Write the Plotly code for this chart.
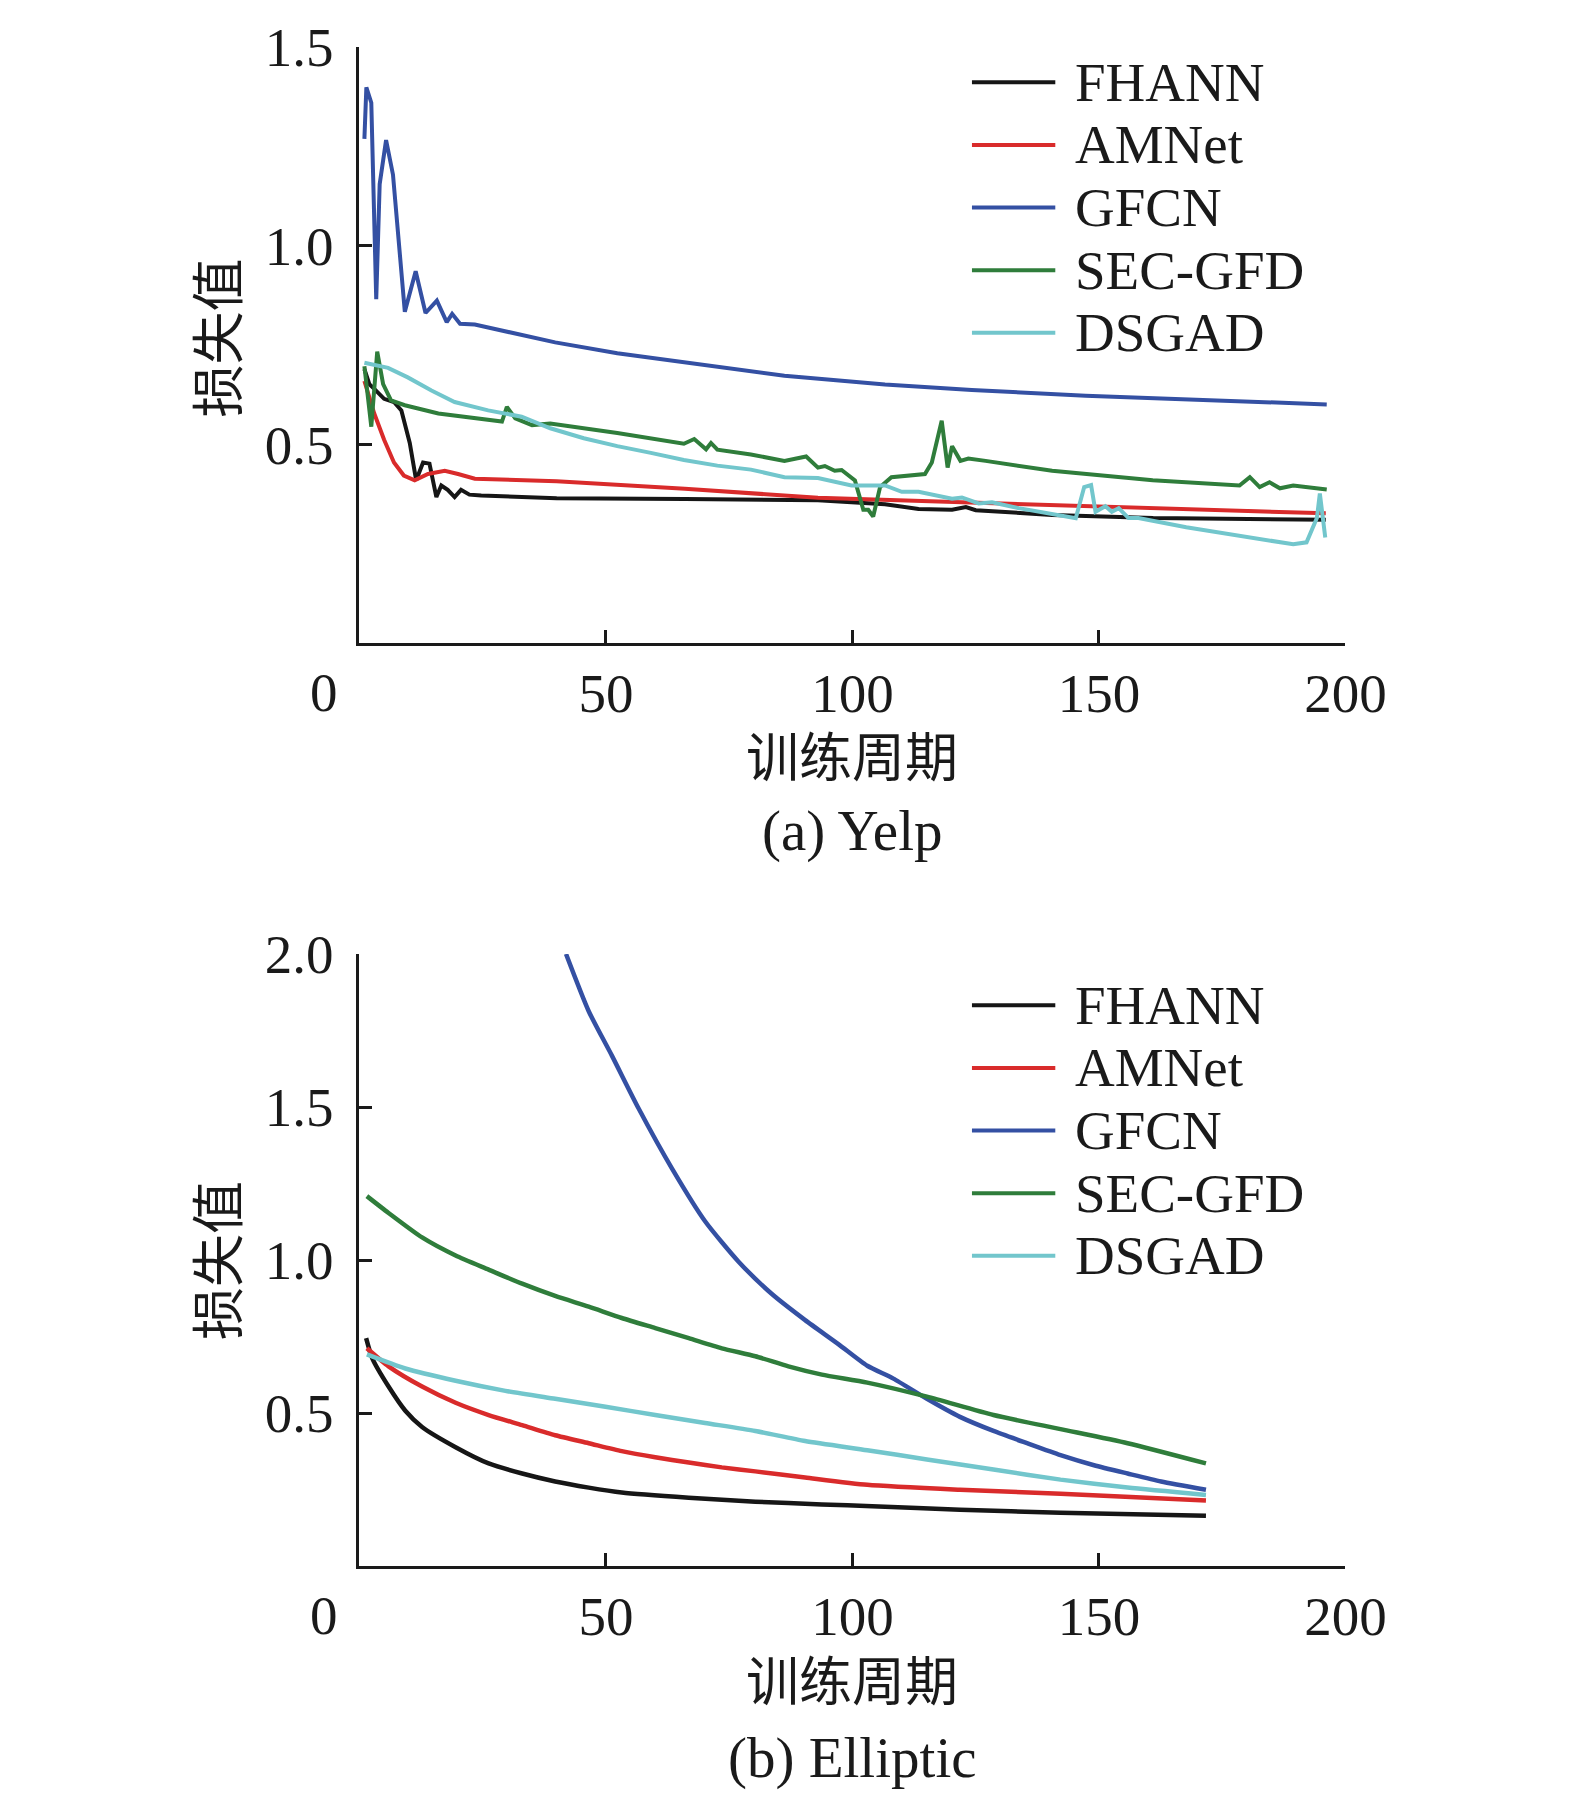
import plotly.graph_objects as go

W, H = 1575, 1796
SERIF = "Liberation Serif, Times New Roman, serif"
CJK = "Noto Sans CJK SC, Liberation Serif, sans-serif"

names = ["FHANN", "AMNet", "GFCN", "SEC-GFD", "DSGAD"]
colors = ["#161616", "#d92b2b", "#3450a3", "#2f7d3b", "#72c6cc"]

# ---- (a) Yelp ----
yelp_fhann_x = [1, 2, 3, 5, 7, 8.5, 10.2, 11.5, 12.9, 14.2, 15.6, 16.6, 17.9, 19.3, 20.6, 22.3, 24.7,
                40, 66, 93, 106.6, 113.4, 120.2, 123, 125, 140.5, 161, 196]
yelp_fhann_y = [0.69, 0.652, 0.64, 0.615, 0.607, 0.586, 0.504, 0.41, 0.455, 0.452, 0.368, 0.397, 0.386,
                0.368, 0.386, 0.374, 0.372, 0.365, 0.363, 0.36, 0.35, 0.338, 0.336, 0.343, 0.335, 0.323,
                0.315, 0.311]

yelp_amnet_x = [1, 3, 5, 7, 9, 11.2, 13.9, 17.3, 20, 23.4, 40, 66, 93, 124, 161, 196]
yelp_amnet_y = [0.66, 0.578, 0.512, 0.455, 0.422, 0.41, 0.426, 0.434, 0.426, 0.414, 0.408, 0.389,
                0.366, 0.354, 0.34, 0.327]

yelp_gfcn_x = [1, 1.4, 2.4, 3.4, 4.1, 5.4, 6.8, 9.2, 11.4, 13.4, 15.7, 17.7, 18.8, 20.4, 23.4, 39.7,
               52.3, 68.6, 86.2, 106.6, 124.2, 147.3, 174.5, 196.2]
yelp_gfcn_y = [1.269, 1.399, 1.36, 0.866, 1.155, 1.266, 1.179, 0.834, 0.936, 0.831, 0.862, 0.808, 0.829,
               0.804, 0.802, 0.757, 0.730, 0.702, 0.673, 0.651, 0.637, 0.623, 0.611, 0.601]

yelp_secgfd_x = [1, 2.4, 3.6, 4.8, 6.4, 9.2, 16, 28.9, 29.9, 31.6, 35, 38.7, 52.3, 65.8, 67.9, 70.3,
                 71.3, 72.6, 79.4, 86.2, 90.6, 93, 94.4, 96.4, 97.8, 100.5, 102.2, 103.2, 104.2, 105.6,
                 107.9, 114.7, 116.1, 118.1, 119.3, 120.2, 121.9, 123.5, 127, 140.5, 160.9, 178.5, 180.6,
                 182.6, 184.6, 186.7, 189.4, 196.2]
yelp_secgfd_y = [0.697, 0.545, 0.734, 0.652, 0.611, 0.599, 0.578, 0.558, 0.595, 0.566, 0.549, 0.553,
                 0.529, 0.502, 0.514, 0.488, 0.504, 0.487, 0.475, 0.459, 0.470, 0.442, 0.446, 0.434,
                 0.436, 0.41, 0.336, 0.336, 0.319, 0.393, 0.418, 0.426, 0.455, 0.56, 0.442, 0.496,
                 0.459, 0.465, 0.459, 0.434, 0.41, 0.397, 0.418, 0.393, 0.405, 0.39, 0.397, 0.387]

yelp_dsgad_x = [1, 5.8, 9.8, 14.6, 19.3, 26.1, 32.9, 38.7, 45.5, 52.3, 59.1, 65.8, 72.6, 79.4, 86.2, 93,
                99.8, 106.6, 110, 113.4, 120.2, 122.2, 125.6, 128.3, 133.7, 145.3, 147, 148.4, 149.3,
                151.3, 152.6, 154, 156, 158, 167.7, 181.3, 189.4, 192.1, 194.2, 194.8, 195.9]
yelp_dsgad_y = [0.706, 0.693, 0.669, 0.636, 0.607, 0.586, 0.57, 0.541, 0.516, 0.496, 0.479, 0.461,
                0.447, 0.437, 0.418, 0.416, 0.397, 0.397, 0.381, 0.381, 0.364, 0.367, 0.352, 0.355,
                0.340, 0.315, 0.393, 0.398, 0.331, 0.345, 0.331, 0.34, 0.315, 0.315, 0.292, 0.266,
                0.249, 0.254, 0.315, 0.377, 0.266]

# ---- (b) Elliptic ----
ell_fhann_x = [1.35, 2.6, 5.9, 9.3, 12.7, 19.5, 26.2, 33, 39.7, 46.5, 53.2, 66.8, 80.3, 93.8, 104,
               121.8, 142.2, 171.7]
ell_fhann_y = [0.745, 0.679, 0.587, 0.508, 0.455, 0.389, 0.336, 0.303, 0.277, 0.257, 0.241, 0.224,
               0.211, 0.202, 0.196, 0.185, 0.175, 0.165]

ell_amnet_x = [1.5, 5.9, 12.7, 19.5, 26.2, 33, 39.7, 46.5, 53.2, 60, 66.8, 73.5, 80.3, 90.4, 103,
               121.8, 142.2, 171.7]
ell_amnet_y = [0.712, 0.653, 0.587, 0.534, 0.494, 0.461, 0.428, 0.402, 0.376, 0.356, 0.339, 0.323,
               0.31, 0.29, 0.266, 0.25, 0.237, 0.215]

ell_gfcn_x = [41.9, 46.5, 51.2, 56.6, 63.4, 70.1, 76.9, 83.6, 90.4, 97.2, 103, 108.3, 115.1, 121.8,
              128.6, 135.4, 142.2, 149, 155.8, 162.6, 171.7]
ell_gfcn_y = [2.0, 1.813, 1.668, 1.496, 1.299, 1.127, 0.995, 0.890, 0.804, 0.725, 0.655, 0.613, 0.547,
              0.488, 0.442, 0.402, 0.363, 0.33, 0.303, 0.277, 0.25]

ell_secgfd_x = [1.5, 5.9, 12.7, 19.5, 26.2, 33, 39.7, 46.5, 53.2, 60, 66.8, 73.5, 80.3, 87, 93.8, 103,
                115.1, 128.6, 142.2, 155.8, 171.7]
ell_secgfd_y = [1.209, 1.154, 1.074, 1.015, 0.969, 0.923, 0.883, 0.848, 0.811, 0.778, 0.745, 0.712,
                0.686, 0.653, 0.626, 0.6, 0.554, 0.494, 0.448, 0.402, 0.336]

ell_dsgad_x = [1.5, 9.3, 19.5, 29.6, 39.7, 49.9, 60, 70.1, 80.3, 90.4, 103, 115.1, 128.6, 142.2,
               155.8, 171.7]
ell_dsgad_y = [0.692, 0.646, 0.606, 0.573, 0.547, 0.521, 0.494, 0.468, 0.442, 0.409, 0.379, 0.349,
               0.316, 0.283, 0.257, 0.233]

x_ticks = [50, 100, 150, 200]
yelp_yticks = [0.5, 1.0, 1.5]
ell_yticks = [0.5, 1.0, 1.5, 2.0]

yelp = [(yelp_fhann_x, yelp_fhann_y), (yelp_amnet_x, yelp_amnet_y), (yelp_gfcn_x, yelp_gfcn_y),
        (yelp_secgfd_x, yelp_secgfd_y), (yelp_dsgad_x, yelp_dsgad_y)]
ell = [(ell_fhann_x, ell_fhann_y), (ell_amnet_x, ell_amnet_y), (ell_gfcn_x, ell_gfcn_y),
       (ell_secgfd_x, ell_secgfd_y), (ell_dsgad_x, ell_dsgad_y)]

# the page shot puts the figure a bit lower and a bit smaller than the window,
# so positions taken off the target picture are mapped back to figure pixels
X_OFF, SC_X = 2, 0.97
Y_OFF, SC_Y = 31, 0.978


def fx(p):
    return (p - X_OFF) / SC_X / W


def fy(p):
    return 1 - (p - Y_OFF) / SC_Y / H


fig = go.Figure()
for i, (xs, ys) in enumerate(yelp):
    fig.add_trace(go.Scatter(x=xs, y=ys, mode="lines", name=names[i], showlegend=False,
                             line=dict(color=colors[i], width=4), xaxis="x", yaxis="y"))
for i, (xs, ys) in enumerate(ell):
    fig.add_trace(go.Scatter(x=xs, y=ys, mode="lines", name=names[i], showlegend=False,
                             line=dict(color=colors[i], width=4.5, shape="spline", smoothing=0.6),
                             xaxis="x2", yaxis="y2"))

axis_common = dict(showline=True, linecolor="#1a1a1a", linewidth=3, ticks="inside", ticklen=13,
                   tickwidth=3, tickcolor="#1a1a1a", showgrid=False, zeroline=False,
                   tickfont=dict(family=SERIF, size=55, color="#1a1a1a"))

dom_x = [fx(360), fx(1342)]
fig.update_layout(
    width=W, height=H, margin=dict(l=0, r=0, t=0, b=0),
    paper_bgcolor="white", plot_bgcolor="white",
    xaxis=dict(domain=dom_x, range=[0, 200], tickvals=x_ticks, anchor="y",
               ticklabelstandoff=0, **axis_common),
    yaxis=dict(domain=[fy(641), fy(48)], range=[0, 1.5], tickvals=yelp_yticks, tickformat=".1f",
               anchor="x", ticklabelstandoff=12, **axis_common),
    xaxis2=dict(domain=dom_x, range=[0, 200], tickvals=x_ticks, anchor="y2",
                ticklabelstandoff=0, **axis_common),
    yaxis2=dict(domain=[fy(1559), fy(950)], range=[0, 2.0], tickvals=ell_yticks, tickformat=".1f",
                anchor="x2", ticklabelstandoff=12, **axis_common),
)

ann = []
shapes = []
# top, x-axis, first legend row, x title offset, caption offset, caption
panels = [(33, 641, 83, 110, 187, "(a) Yelp"), (950, 1559, 1001, 111, 191, "(b) Elliptic")]
for top, base, leg_top, t_off, c_off, cap in panels:
    common = dict(xref="paper", yref="paper", showarrow=False, yanchor="middle")
    ann.append(dict(x=fx(325), y=fy(base + 49), text="0", xanchor="center",
                    font=dict(family=SERIF, size=55, color="#1a1a1a"), **common))
    ann.append(dict(x=fx(851), y=fy(base + t_off), text="训练周期", xanchor="center",
                    font=dict(family=CJK, size=53, color="#1a1a1a"), **common))
    ann.append(dict(x=fx(851), y=fy(base + c_off), text=cap, xanchor="center",
                    font=dict(family=SERIF, size=57, color="#1a1a1a"), **common))
    ann.append(dict(x=fx(216), y=fy((top + base) / 2), text="损失值", textangle=-90,
                    xanchor="center", font=dict(family=CJK, size=53, color="#1a1a1a"), **common))
    for i, n in enumerate(names):
        yy = leg_top + i * 62.3
        shapes.append(dict(type="line", xref="paper", yref="paper", x0=fx(970), x1=fx(1053),
                           y0=fy(yy), y1=fy(yy), line=dict(color=colors[i], width=4)))
        ann.append(dict(x=fx(1071), y=fy(yy), text=n, xanchor="left",
                        font=dict(family=SERIF, size=55, color="#1a1a1a"), **common))

fig.update_layout(annotations=ann, shapes=shapes)
fig.write_html("out.html", config={"displayModeBar": False},
               post_script="document.body.style.margin='0px';")
